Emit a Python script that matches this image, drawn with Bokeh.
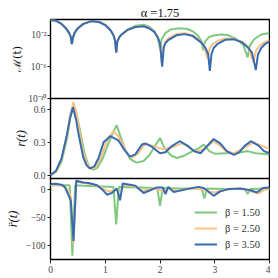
from bokeh.plotting import figure
from bokeh.layouts import column
from bokeh.models import (Range1d, FixedTicker, CustomJSTickFormatter,
                          Legend, LegendItem)
from bokeh.embed import file_html
from bokeh.resources import INLINE

# ---------------- data ----------------
TITLE = "α =1.75"
BETAS = ["β = 1.50", "β = 2.50", "β = 3.50"]
COLORS = ["#7fc97f", "#fdc086", "#386cb0"]

# top panel: log10 of M(t)
m_t_b15 = [0, 0.1, 0.2, 0.28, 0.34, 0.37, 0.39, 0.41, 0.44, 0.5, 0.6, 0.75, 0.9, 1.0, 1.1, 1.15, 1.18, 1.2,
           1.22, 1.26, 1.3, 1.4, 1.55, 1.7, 1.8, 1.9, 1.96, 2.0, 2.03, 2.1, 2.2, 2.35, 2.5, 2.6, 2.7, 2.76,
           2.79, 2.82, 2.9, 3.0, 3.13, 3.25, 3.4, 3.52, 3.6, 3.64, 3.72, 3.85, 4.0]
m_v_b15 = [-0.05, -0.15, -0.55, -1.1, -1.7, -2.2, -3.1, -2.3, -1.7, -1.1, -0.55, -0.2, -0.35, -0.7, -1.4, -2.0, -2.7, -4.2,
           -2.8, -2.2, -1.9, -1.3, -0.8, -0.65, -0.9, -1.5, -2.3, -3.7, -2.5, -1.7, -1.25, -1.1, -1.2, -1.5, -2.1, -2.8,
           -3.9, -2.8, -2.2, -2.0, -1.9, -2.0, -2.5, -3.2, -4.8, -3.3, -2.5, -1.9, -1.7]

m_t_b25 = [0, 0.1, 0.2, 0.28, 0.34, 0.37, 0.39, 0.41, 0.44, 0.5, 0.6, 0.75, 0.9, 1.0, 1.1, 1.15, 1.18, 1.2,
           1.22, 1.26, 1.3, 1.4, 1.55, 1.7, 1.8, 1.9, 1.96, 2.0, 2.03, 2.06, 2.1, 2.15, 2.3, 2.45, 2.6, 2.72, 2.8,
           2.87, 2.9, 2.95, 3.05, 3.2, 3.35, 3.5, 3.6, 3.71, 3.75, 3.82, 3.9, 4.0]
m_v_b25 = [-0.05, -0.15, -0.55, -1.1, -1.7, -2.2, -3.1, -2.3, -1.7, -1.1, -0.55, -0.2, -0.35, -0.7, -1.4, -2.0, -2.7, -4.2,
           -2.8, -2.2, -1.9, -1.35, -0.92, -0.82, -1.05, -1.55, -2.2, -2.9, -5.5, -3.4, -2.8, -2.4, -1.85, -1.75, -2.0,
           -2.6, -3.3, -5.0, -3.8, -3.2, -2.7, -2.4, -2.45, -2.8, -3.4, -5.4, -4.0, -3.3, -2.9, -2.65]

m_t_b35 = [0, 0.1, 0.2, 0.28, 0.34, 0.37, 0.39, 0.41, 0.44, 0.5, 0.6, 0.75, 0.9, 1.0, 1.1, 1.15, 1.18, 1.2,
           1.22, 1.26, 1.3, 1.4, 1.55, 1.7, 1.8, 1.9, 1.96, 2.0, 2.04, 2.07, 2.1, 2.15, 2.3, 2.45, 2.6, 2.75, 2.83,
           2.88, 2.91, 2.94, 2.98, 3.05, 3.2, 3.35, 3.5, 3.6, 3.68, 3.75, 3.79, 3.85, 3.92, 4.0]
m_v_b35 = [-0.05, -0.15, -0.55, -1.1, -1.7, -2.2, -3.1, -2.3, -1.7, -1.1, -0.55, -0.2, -0.35, -0.7, -1.4, -2.0, -2.7, -4.2,
           -2.8, -2.2, -1.9, -1.35, -0.95, -0.85, -1.1, -1.6, -2.3, -3.0, -5.96, -3.5, -3.0, -2.6, -2.0, -1.85, -2.1,
           -2.9, -3.6, -4.4, -6.5, -4.4, -3.6, -3.1, -2.55, -2.5, -2.9, -3.5, -4.2, -6.4, -4.4, -3.6, -3.1, -2.8]

# middle panel: r(t)
r_t_b15 = [0, 0.1, 0.2, 0.3, 0.36, 0.42, 0.48, 0.55, 0.62, 0.7, 0.78, 0.86, 0.95, 1.05, 1.15, 1.21, 1.28, 1.36,
           1.45, 1.57, 1.7, 1.8, 1.9, 2.0, 2.08, 2.2, 2.31, 2.45, 2.6, 2.72, 2.8, 2.9, 3.01, 3.2, 3.4, 3.6, 3.75, 4.0]
r_v_b15 = [0.0, 0.03, 0.12, 0.33, 0.52, 0.625, 0.55, 0.38, 0.2, 0.08, 0.05, 0.07, 0.15, 0.28, 0.40, 0.455, 0.35, 0.24,
           0.15, 0.115, 0.13, 0.18, 0.26, 0.34, 0.25, 0.18, 0.157, 0.18, 0.22, 0.25, 0.28, 0.22, 0.195, 0.2, 0.2, 0.22,
           0.2, 0.19]

r_t_b25 = [0, 0.1, 0.2, 0.3, 0.36, 0.42, 0.47, 0.52, 0.6, 0.68, 0.75, 0.82, 0.92, 1.02, 1.1, 1.15, 1.22, 1.32,
           1.42, 1.49, 1.6, 1.7, 1.76, 1.9, 2.05, 2.2, 2.3, 2.4, 2.52, 2.65, 2.8, 2.98, 3.1, 3.2, 3.35, 3.5, 3.71,
           3.85, 4.0]
r_v_b25 = [0.0, 0.035, 0.14, 0.36, 0.55, 0.665, 0.58, 0.42, 0.2, 0.09, 0.06, 0.07, 0.16, 0.3, 0.37, 0.40, 0.37, 0.28,
           0.18, 0.16, 0.2, 0.27, 0.285, 0.26, 0.24, 0.25, 0.27, 0.29, 0.26, 0.21, 0.24, 0.31, 0.27, 0.22, 0.20, 0.24,
           0.30, 0.27, 0.24]

r_t_b35 = [0, 0.1, 0.2, 0.3, 0.36, 0.41, 0.47, 0.51, 0.6, 0.66, 0.72, 0.8, 0.88, 0.97, 1.09, 1.24, 1.36, 1.45,
           1.55, 1.67, 1.73, 1.85, 2.0, 2.1, 2.2, 2.36, 2.5, 2.62, 2.74, 2.85, 2.98, 3.1, 3.22, 3.35, 3.45, 3.55,
           3.66, 3.8, 3.9, 4.0]
r_v_b35 = [0.0, 0.04, 0.15, 0.37, 0.53, 0.62, 0.5, 0.38, 0.16, 0.09, 0.06, 0.08, 0.16, 0.30, 0.356, 0.317, 0.224, 0.17,
           0.19, 0.28, 0.29, 0.26, 0.20, 0.21, 0.26, 0.31, 0.27, 0.22, 0.20, 0.26, 0.33, 0.29, 0.22, 0.185, 0.21, 0.27,
           0.31, 0.27, 0.22, 0.20]

# bottom panel: r''(t)
a_t_b15 = [0, 0.35, 0.4, 0.45, 0.6, 1.15, 1.2, 1.25, 1.6, 1.95, 2.0, 2.05, 2.4, 2.76, 2.81, 2.86, 3.2, 3.55, 3.6,
           3.65, 4.0]
a_v_b15 = [8, 8, -118, 8, 7, 5, -62, 5, 4, 3, -29, 3, 2, 2, -16, 2, 1, 1, -8, 1, 2]

a_t_b25 = [0, 0.2, 0.3, 0.37, 0.42, 0.47, 0.6, 0.8, 0.95, 1.05, 1.15, 1.22, 1.27, 1.32, 1.5, 1.7, 1.9, 2.08, 2.15,
           2.3, 2.5, 2.7, 2.85, 3.0, 3.2, 3.45, 3.6, 3.8, 3.9, 4.0]
a_v_b25 = [8, 8, 2, -12, -97, 14, 12, 9, 3, -3, -2, 1, -15, 9, 7, -2, 3, -4, 2, -2, 1, 3, -3, -5, 0, 2, -1, -7, 0, 1]

a_t_b35 = [0, 0.1, 0.2, 0.26, 0.33, 0.37, 0.42, 0.47, 0.6, 0.7, 0.85, 0.95, 1.03, 1.12, 1.21, 1.27, 1.32, 1.45,
           1.55, 1.7, 1.8, 1.95, 2.05, 2.1, 2.15, 2.25, 2.49, 2.7, 2.8, 2.98, 3.1, 3.25, 3.47, 3.65, 3.77, 3.88, 4.0]
a_v_b35 = [10, 10.5, 9, 5, -10, -19, -92, 16, 13, 12, 8, 0, -9, -6, 2, -19, 11, 9, 7, -6, -2, 4, 4, -8, 5, -4, 1, 5,
           3, -11, -3, 1, 2, -1, -5, 3, 4]

X_TICKS = [0, 1, 2, 3, 4]
M_TICKS = [1e-10, 1e-6, 1e-2]
R_TICKS = [0.0, 0.3, 0.6]
A_TICKS = [-100, -50, 0]

# ---------------- styling ----------------
FONT = "Liberation Serif"
TICK_COLOR = "#444444"
OVERLAP = 7
x_range = Range1d(0, 4)


def style(p, ylabel, show_x):
    p.grid.visible = False
    p.outline_line_color = "black"
    p.outline_line_width = 1.4
    p.background_fill_color = "white"
    p.border_fill_alpha = 0
    for ax in p.yaxis + p.xaxis:
        ax.axis_line_color = None
        ax.major_tick_in = 0
        ax.major_tick_out = 3
        ax.minor_tick_in = 0
        ax.minor_tick_out = 0
        ax.major_tick_line_color = "#222222"
        ax.major_label_text_font = FONT
        ax.major_label_text_font_size = "9.5px"
        ax.major_label_text_color = TICK_COLOR
        ax.major_label_standoff = 2
    p.yaxis.axis_label = ylabel
    p.yaxis.axis_label_text_font = FONT
    p.yaxis.axis_label_text_font_size = "12.5px"
    p.yaxis.axis_label_text_font_style = "italic"
    p.yaxis.axis_label_text_color = "#111111"
    p.yaxis.axis_label_standoff = 3
    p.xaxis.visible = show_x


common = dict(output_backend="svg", toolbar_location=None, width=270,
              min_border_left=50, min_border_right=1, x_range=x_range)

# top panel
p1 = figure(height=98 + OVERLAP, y_axis_type="log", y_range=Range1d(1e-10, 1e0),
            min_border_top=19, min_border_bottom=OVERLAP, **common)
p1.title.text = TITLE
p1.title.align = "center"
p1.title.text_font = FONT
p1.title.text_font_size = "12.5px"
p1.title.text_font_style = "normal"
p1.title.text_color = "#111111"
p1.title.standoff = 0
p1.title.offset = 0
style(p1, "ℳ(t)", False)
p1.yaxis.axis_label_standoff = 1
p1.yaxis.major_label_standoff = 1
p1.yaxis.axis_label_text_font = "DejaVu Serif"
p1.yaxis.axis_label_text_font_style = "normal"
p1.yaxis.axis_label_text_font_size = "11px"
p1.yaxis.ticker = FixedTicker(ticks=M_TICKS)
p1.yaxis.formatter = CustomJSTickFormatter(code="""
const sup = {'0':'\u2070','1':'\u00b9','2':'\u00b2','3':'\u00b3','4':'\u2074','5':'\u2075','6':'\u2076','7':'\u2077','8':'\u2078','9':'\u2079','-':'\u207b'};
const e = String(Math.round(Math.log10(tick)));
return '10' + e.split('').map(c => sup[c]).join('');
""")
for t, v, c in [(m_t_b15, m_v_b15, COLORS[0]), (m_t_b25, m_v_b25, COLORS[1]), (m_t_b35, m_v_b35, COLORS[2])]:
    p1.line(t, [10.0 ** e for e in v], line_color=c, line_width=2)

# middle panel
p2 = figure(height=80 + OVERLAP, y_range=Range1d(-0.03, 0.70),
            min_border_top=0, min_border_bottom=OVERLAP, margin=(-OVERLAP, 0, 0, 0), **common)
style(p2, "r(t)", False)
p2.yaxis.ticker = FixedTicker(ticks=R_TICKS)
p2.yaxis.formatter = CustomJSTickFormatter(code="return tick.toFixed(1);")
for t, v, c in [(r_t_b15, r_v_b15, COLORS[0]), (r_t_b25, r_v_b25, COLORS[1]), (r_t_b35, r_v_b35, COLORS[2])]:
    p2.line(t, v, line_color=c, line_width=2)

# bottom panel
p3 = figure(height=97, y_range=Range1d(-125, 20), min_border_top=0, min_border_bottom=0,
            margin=(-OVERLAP, 0, 0, 0), **common)
style(p3, "r̈(t)", True)
p3.yaxis.ticker = FixedTicker(ticks=A_TICKS)
p3.yaxis.formatter = CustomJSTickFormatter(code="return tick < 0 ? '\u2212' + Math.abs(tick).toFixed(0) : tick.toFixed(0);")
p3.xaxis.ticker = FixedTicker(ticks=X_TICKS)
p3.xaxis.major_tick_out = 4
p3.xaxis.major_label_standoff = 2
renderers = []
for t, v, c in [(a_t_b15, a_v_b15, COLORS[0]), (a_t_b25, a_v_b25, COLORS[1]), (a_t_b35, a_v_b35, COLORS[2])]:
    renderers.append(p3.line(t, v, line_color=c, line_width=2))

legend = Legend(items=[LegendItem(label=lab, renderers=[r]) for lab, r in zip(BETAS, renderers)],
                location="bottom_right")
legend.background_fill_alpha = 0
legend.border_line_alpha = 0
legend.label_text_font = FONT
legend.label_text_font_size = "10.5px"
legend.label_text_color = "#333333"
legend.glyph_width = 23
legend.glyph_height = 12
legend.label_height = 12
legend.spacing = 4
legend.padding = 0
legend.margin = 9
legend.label_standoff = 8
p3.add_layout(legend)

layout = column(p1, p2, p3, spacing=0)
open("out.html", "w").write(file_html(layout, INLINE))
